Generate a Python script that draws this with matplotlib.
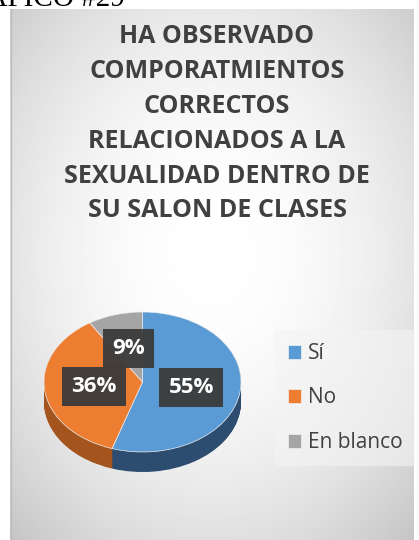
import numpy as np
import matplotlib
matplotlib.use("Agg")
import matplotlib.pyplot as plt

LABELS = ["Sí", "No", "En blanco"]
VALUES = [55, 36, 9]
TITLE = ("HA OBSERVADO\nCOMPORATMIENTOS\nCORRECTOS\nRELACIONADOS A LA\n"
         "SEXUALIDAD DENTRO DE\nSU SALON DE CLASES")
CAPTION = "GRAFICO #29"

TOP_COLORS = ["#5b9bd5", "#ed7d31", "#a5a5a5"]
SIDE_COLORS = ["#2c4d70", "#a4541d", "#737373"]

W, H = 419, 540
fig = plt.figure(figsize=(W / 100, H / 100), dpi=100)
fig.patch.set_facecolor("white")

def fx(px):
    return px / W

def fy(py):
    return 1 - py / H

# chart panel with soft radial gradient (white centre, grey corners)
bg = fig.add_axes([fx(10), 0, fx(403), 531 / H])
yy, xx = np.mgrid[1:-1:300j, -1:1:300j]
r2 = xx ** 2 + (yy - 0.08) ** 2
bg.imshow(1.0 - 0.105 * r2, cmap="gray", vmin=0, vmax=1,
          extent=[0, 1, 0, 1], aspect="auto", interpolation="bilinear")
bg.axvline(0.002, color="#bdbdbd", linewidth=1)
bg.set_axis_off()

fig.text(fx(125), fy(6), CAPTION, ha="right", va="baseline",
         family="Liberation Serif", fontsize=21, color="black")

fig.text(fx(217), fy(24), TITLE, ha="center", va="top", family="Open Sans",
         fontweight="bold", fontsize=18, color="#404040", linespacing=1.52)

# pie with pseudo 3D thickness
t = 0.2857
ax = fig.add_axes([fx(44), fy(472), fx(197), 160 / H])
for k in np.linspace(t, 0.005, 30):
    ax.pie(VALUES, colors=SIDE_COLORS, startangle=90, counterclock=False,
           center=(0, -k), radius=1, wedgeprops=dict(linewidth=0))
wedges, _, autotexts = ax.pie(
    VALUES, colors=TOP_COLORS, startangle=90, counterclock=False,
    autopct="%1.0f%%", pctdistance=0.5, radius=1,
    wedgeprops=dict(linewidth=0.5, edgecolor="#f0f0f0"))
for at in autotexts:
    at.set(color="white", fontsize=16, fontweight="bold", family="Open Sans")
    at.set_bbox(dict(boxstyle="square,pad=0.42", facecolor="#3b3b3b",
                     edgecolor="none", alpha=0.95))
ax.set_aspect("auto")
ax.set_xlim(-1, 1)
ax.set_ylim(-1 - t, 1)
ax.set_axis_off()

leg = fig.legend(wedges, LABELS, loc="upper left",
                 bbox_to_anchor=(fx(275), fy(330)), borderaxespad=0,
                 frameon=True, facecolor="#f4f4f4", edgecolor="none",
                 framealpha=0.6, fancybox=False,
                 prop=dict(family="Open Sans", size=15),
                 labelcolor="#404040", handlelength=0.65, handleheight=0.65,
                 handletextpad=0.3, labelspacing=1.13, borderpad=0.62)

fig.savefig("out.png", dpi=100)
